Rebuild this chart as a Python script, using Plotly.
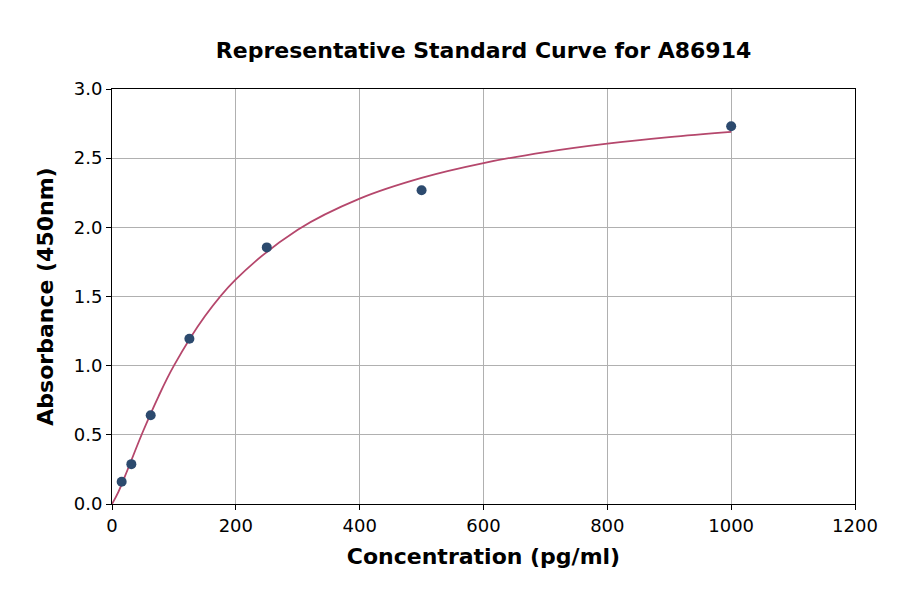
import plotly.graph_objects as go

# Standard points
conc = [15.625, 31.25, 62.5, 125, 250, 500, 1000]
absorb = [0.161, 0.288, 0.642, 1.195, 1.855, 2.268, 2.731]

# Fitted curve samples
curve_x = [0, 10, 25, 50, 75, 100, 150, 200, 300, 400, 500, 600, 700, 800, 900, 1000]
curve_y = [0.0, 0.084, 0.246, 0.524, 0.777, 1.000, 1.357, 1.624, 1.983, 2.208,
           2.358, 2.465, 2.544, 2.605, 2.652, 2.690]

x_ticks = [0, 200, 400, 600, 800, 1000, 1200]
y_ticks = [0.0, 0.5, 1.0, 1.5, 2.0, 2.5, 3.0]

title_text = "Representative Standard Curve for A86914"
x_label = "Concentration (pg/ml)"
y_label = "Absorbance (450nm)"

font_family = "DejaVu Sans"

fig = go.Figure()
fig.add_trace(go.Scatter(
    x=curve_x, y=curve_y, mode="lines", line_shape="spline",
    line=dict(color="#b5476c", width=1.8), hoverinfo="skip", showlegend=False))
fig.add_trace(go.Scatter(
    x=conc, y=absorb, mode="markers",
    marker=dict(color="#2c4a6e", size=10), showlegend=False))

axis_common = dict(
    showline=True, mirror=True, linecolor="#000000", linewidth=1,
    showgrid=True, gridcolor="#b0b0b0", gridwidth=1,
    ticks="outside", ticklen=5, tickwidth=1, tickcolor="#000000",
    zeroline=False,
    tickfont=dict(family=font_family, size=18, color="#000000"),
)

fig.update_xaxes(
    range=[0, 1200], tickvals=x_ticks, ticktext=[str(v) for v in x_ticks],
    title=dict(text="<b>" + x_label + "</b>", standoff=14,
               font=dict(family=font_family, size=22, color="#000000")),
    **axis_common)
fig.update_yaxes(
    range=[0, 3.0], tickvals=y_ticks, ticktext=["%.1f" % v for v in y_ticks],
    title=dict(text="<b>" + y_label + "</b>", standoff=14,
               font=dict(family=font_family, size=22, color="#000000")),
    **axis_common)

fig.update_layout(
    width=900, height=594,
    margin=dict(l=112, r=45, t=89, b=90),
    paper_bgcolor="white", plot_bgcolor="white",
    font=dict(family=font_family, color="#000000"),
    title=dict(text="<b>" + title_text + "</b>", x=0.5373, xanchor="center",
               y=1 - 50 / 594, yanchor="middle", yref="container",
               font=dict(family=font_family, size=22, color="#000000")),
)

fig.write_html("out.html", config={"displayModeBar": False},
               post_script="document.body.style.margin='0px';")
